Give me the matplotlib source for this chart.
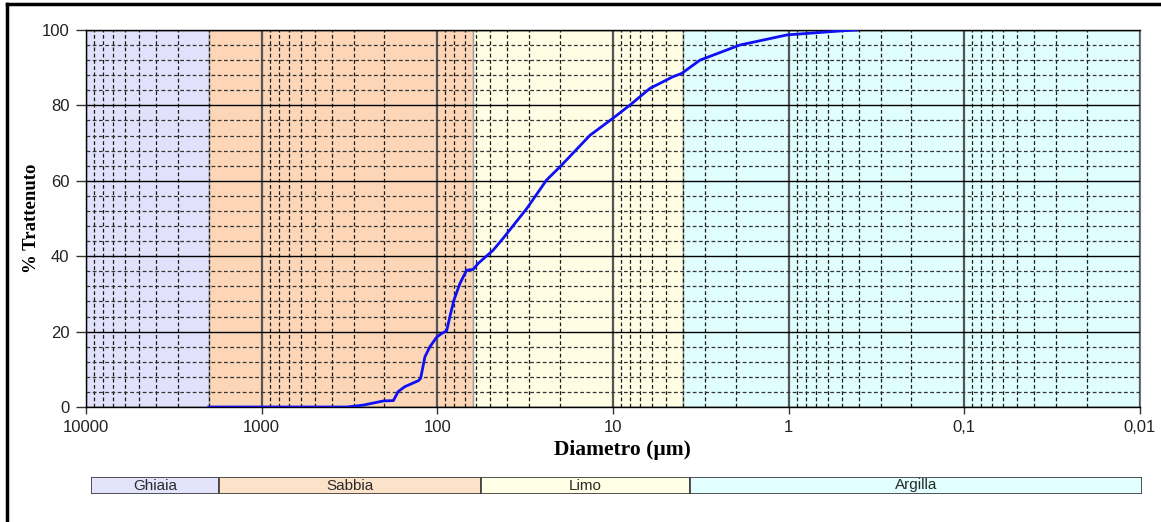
import matplotlib
matplotlib.use("Agg")
import matplotlib.pyplot as plt
from matplotlib.ticker import FixedLocator, LogLocator, MultipleLocator, NullFormatter
from matplotlib.lines import Line2D

# ---- data ----
diametro = [2000, 1000, 600, 409, 328, 264, 203, 178, 167, 153, 128, 124.5, 117.7,
            110.2, 100.9, 94.5, 88.5, 84.8, 80.4, 74.3, 68.1, 62.5, 58.5, 48.1,
            42.3, 30.9, 23.9, 20.05, 13.5, 10.0, 8.0, 6.17, 4.56, 4.06, 3.2,
            1.9, 1.02, 0.49, 0.41]
trattenuto = [0, 0, 0, 0, 0, 0.5, 1.6, 1.7, 4.1, 5.4, 7.0, 7.6, 13.3,
              16.0, 18.5, 19.5, 20.2, 24.0, 28.4, 32.8, 36.3, 36.5, 38.1, 41.6,
              44.7, 52.7, 60.2, 63.7, 72.1, 76.6, 80.1, 84.5, 87.6, 88.5, 92.0,
              96.0, 98.7, 99.8, 100.0]

classi = ["Ghiaia", "Sabbia", "Limo", "Argilla"]
limiti = [10000, 2000, 63, 4, 0.01]          # class boundaries (µm)
colori_bande = ["#E1E1FB", "#FCD6B6", "#FFFDE4", "#E0FEFE"]
colori_legenda = ["#E3E3FB", "#FDE2CA", "#FFFFE6", "#E2FFFF"]

xticks = [10000, 1000, 100, 10, 1, 0.1, 0.01]
xtick_labels = ["10000", "1000", "100", "10", "1", "0,1", "0,01"]
yticks = [0, 20, 40, 60, 80, 100]

# ---- figure ----
W, H = 1161, 522
fig = plt.figure(figsize=(W / 100, H / 100), dpi=100)
fig.patch.set_facecolor("white")

def fx(px):
    return px / W

def fy(py):
    return 1 - py / H

ax = fig.add_axes([fx(86), fy(407), fx(1140) - fx(86), fy(30) - fy(407)])
ax.set_xscale("log")
ax.set_xlim(10000, 0.01)
ax.set_ylim(0, 100)

for i in range(4):
    ax.axvspan(limiti[i], limiti[i + 1], facecolor=colori_bande[i],
               edgecolor="#A0A0A0", linewidth=1.0, zorder=0.5)

ax.xaxis.set_major_locator(FixedLocator(xticks))
ax.set_xticklabels(xtick_labels)
ax.xaxis.set_minor_locator(LogLocator(base=10, subs=range(2, 10)))
ax.xaxis.set_minor_formatter(NullFormatter())
ax.yaxis.set_major_locator(FixedLocator(yticks))
ax.yaxis.set_minor_locator(MultipleLocator(4))

dash = (0, (3, 2))
ax.xaxis.grid(True, which="major", color="#555555", linestyle="-", linewidth=1.6)
ax.yaxis.grid(True, which="major", color="black", linestyle="-", linewidth=1.0)
ax.xaxis.grid(True, which="minor", color="#1A1A1A", linestyle=dash, linewidth=0.9)
ax.yaxis.grid(True, which="minor", color="#333333", linestyle=dash, linewidth=0.9)

ax.plot(diametro, trattenuto, color="#1010F5", linewidth=2.0, zorder=3)

ax.tick_params(which="minor", length=0)
ax.tick_params(axis="y", which="major", length=7, width=1, color="#333333",
               labelsize=12, labelcolor="#222222", pad=5, direction="out")
ax.tick_params(axis="x", which="major", length=5, width=1, color="#333333",
               labelsize=12, labelcolor="#222222", pad=4, direction="out")
for lab in ax.get_xticklabels() + ax.get_yticklabels():
    lab.set_family(["Liberation Sans", "DejaVu Sans"])

for side in ["top", "bottom", "left"]:
    ax.spines[side].set_color("black")
    ax.spines[side].set_linewidth(1.0)
ax.spines["right"].set_color("#777777")

ax.set_xlabel("Diametro (µm)", fontsize=15.5, fontweight="bold",
              family=["Liberation Serif", "DejaVu Serif"])
ax.set_ylabel("% Trattenuto", fontsize=13.5, fontweight="bold",
              family=["Liberation Serif", "DejaVu Serif"])
ax.xaxis.set_label_coords((622 - 86) / 1054, (407 - 440) / 377)
ax.yaxis.set_label_coords((40 - 86) / 1054, 0.5)

# ---- class legend bar ----
leg_xlim = (10830, 0.0103)
lax = fig.add_axes([fx(91), fy(494), fx(1142) - fx(91), fy(477) - fy(494)])
lax.set_xscale("log")
lax.set_xlim(*leg_xlim)
lax.set_ylim(0, 1)
bordi = [leg_xlim[0]] + limiti[1:-1] + [leg_xlim[1]]
for i in range(4):
    lax.axvspan(bordi[i], bordi[i + 1], facecolor=colori_legenda[i],
                edgecolor="#444444", linewidth=1.3)
    xc = (bordi[i] * bordi[i + 1]) ** 0.5
    lax.text(xc, 0.5, classi[i], ha="center", va="center", fontsize=11,
             color="#2A2A2A", family=["Liberation Sans", "DejaVu Sans"])
lax.set_axis_off()

# ---- outer frame (top and left) ----
fig.add_artist(Line2D([fx(7), 1], [fy(4), fy(4)], color="black", linewidth=2.5))
fig.add_artist(Line2D([fx(7), fx(7)], [0, fy(4)], color="black", linewidth=2.5))

fig.savefig("out.png", dpi=100)
